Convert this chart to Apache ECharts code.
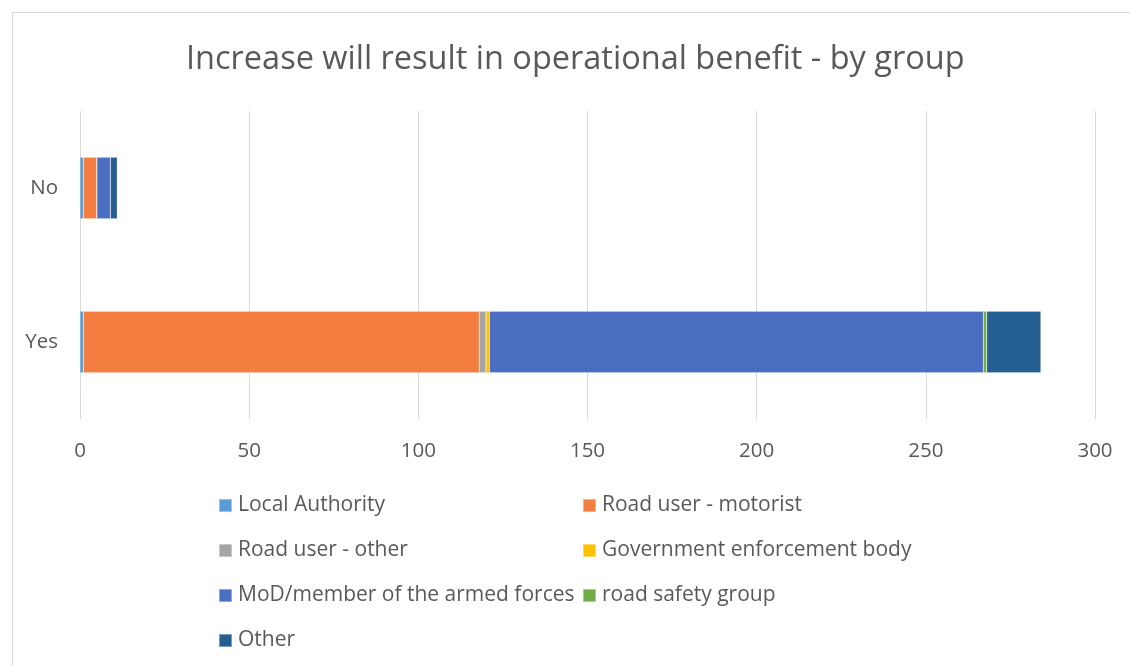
<html lang="en">
<head>
  <meta charset="utf-8"/>
  <script src="https://cdn.jsdelivr.net/npm/echarts@6/dist/echarts.min.js"></script>
  <style>
    body { margin: 0; background: #fff; }
    #frame { position: absolute; left: 12px; top: 12px; width: 1130px; height: 666px; border: 1px solid #d9d9d9; }
    #chart { position: absolute; left: 0; top: 0; width: 1130px; height: 666px; }
  </style>
</head>
<body>
<div id="frame"></div>
<div id="chart"></div>
<script>
  // categories (bottom to top)
  var categories = ['Yes', 'No'];
  var groups = ['Local Authority', 'Road user - motorist', 'Road user - other', 'Government enforcement body',
    'MoD/member of the armed forces', 'road safety group', 'Other'];
  var colors = ['#5b9bd5', '#f47e3f', '#a5a5a5', '#ffc000', '#4a6fc0', '#70ad47', '#255e91'];
  // values per group: [Yes, No]
  var localAuthority = [1, 1];
  var motorist = [117, 4];
  var roadOther = [2, 0];
  var govEnforcement = [1, 0];
  var mod = [146, 4];
  var roadSafety = [1, 0];
  var other = [16, 2];
  var values = [localAuthority, motorist, roadOther, govEnforcement, mod, roadSafety, other];
  var xTicks = [0, 50, 100, 150, 200, 250, 300];

  var series = groups.map(function (g, i) {
    return {
      name: g,
      type: 'bar',
      stack: 'total',
      barWidth: '40%',
      data: values[i],
      itemStyle: { color: colors[i], borderColor: 'rgba(255,255,255,0.4)', borderWidth: 0.5 }
    };
  });

  // legend placement: two columns
  var legendPos = [[218, 495], [582, 495], [218, 540], [582, 540], [218, 585], [582, 585], [218, 630]];
  var legends = groups.map(function (g, i) {
    return {
      data: [g],
      left: legendPos[i][0],
      top: legendPos[i][1],
      padding: 0,
      itemWidth: 13,
      itemHeight: 13,
      icon: 'rect',
      itemGap: 4,
      textStyle: { color: '#595959', fontSize: 21, fontFamily: 'Open Sans', padding: [0, 0, 0, 1] },
      selectedMode: false
    };
  });

  var myChart = echarts.init(document.getElementById('chart'));
  myChart.setOption({
    animation: false,
    color: colors,
    title: {
      text: 'Increase will result in operational benefit - by group',
      left: 181,
      top: 38,
      textStyle: { color: '#595959', fontSize: 32.5, fontWeight: 'normal', fontFamily: 'Open Sans' }
    },
    legend: legends,
    grid: { left: 80, right: 35, top: 111, bottom: 247 },
    xAxis: {
      type: 'value',
      min: 0,
      max: 300,
      interval: xTicks[1] - xTicks[0],
      axisLine: { show: false },
      axisTick: { show: false },
      splitLine: { lineStyle: { color: '#d9d9d9', width: 1 } },
      axisLabel: { color: '#595959', fontSize: 20.5, margin: 22, fontFamily: 'Open Sans' }
    },
    yAxis: {
      type: 'category',
      data: categories,
      axisLine: { show: false },
      axisTick: { show: false },
      axisLabel: { color: '#595959', fontSize: 20.5, margin: 22, fontFamily: 'Open Sans' }
    },
    series: series
  });
</script>
</body>
</html>
